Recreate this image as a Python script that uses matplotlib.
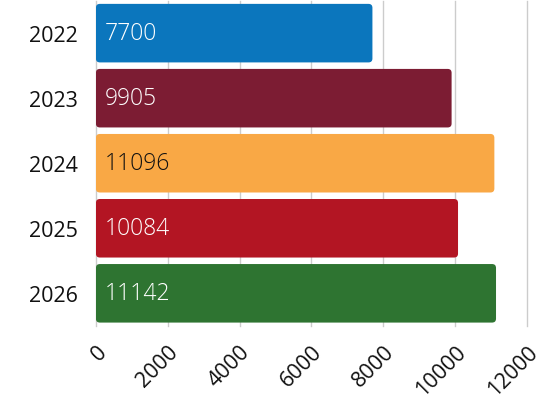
import matplotlib.pyplot as plt
from matplotlib.patches import FancyBboxPatch

years = ['2022', '2023', '2024', '2025', '2026']
values = [7700, 9905, 11096, 10084, 11142]
colours = ['#0b76bd', '#7c1c33', '#f9a845', '#b31523', '#2e7431']
label_colours = ['white', 'white', '#111111', 'white', 'white']
xticks = [0, 2000, 4000, 6000, 8000, 10000, 12000]

plt.rcParams['font.family'] = ['Open Sans', 'DejaVu Sans']

fig = plt.figure(figsize=(5.42, 4.06), dpi=100)
ax = fig.add_axes([0.177, 0.195, 0.795, 0.801])

bars = ax.barh(years, values, height=0.9, color=colours)

# swap plain rectangles for rounded ones (radius ~4px)
rx = 110
ry = 0.06
for bar in bars:
    x, y = bar.get_x(), bar.get_y()
    w, h = bar.get_width(), bar.get_height()
    patch = FancyBboxPatch((x, y), w, h,
                           boxstyle=f"round,pad=0,rounding_size={rx}",
                           mutation_aspect=ry / rx,
                           facecolor=bar.get_facecolor(), edgecolor='none', zorder=3)
    bar.set_visible(False)
    ax.add_patch(patch)

for i, (v, c) in enumerate(zip(values, label_colours)):
    ax.text(250, i, f'{v}', color=c, va='center', ha='left', fontsize=16.5,
            fontweight='light', zorder=4)

ax.set_xlim(0, 12000)
ax.set_ylim(4.5, -0.5)
ax.set_xticks(xticks)
ax.set_xticklabels([str(t) for t in xticks], rotation=45, ha='right', va='top',
                   rotation_mode='anchor', fontsize=15.5, color='#111111')
ax.tick_params(axis='y', labelsize=15.5, labelcolor='#111111', length=0, pad=13)
ax.tick_params(axis='x', length=0, pad=11)
ax.grid(axis='x', color='#cccccc', lw=1, zorder=0)
for gl in ax.get_xgridlines():
    gl.set_clip_on(False)
ax.set_axisbelow(True)
for s in ax.spines.values():
    s.set_visible(False)

plt.savefig('out.png', dpi=100)
